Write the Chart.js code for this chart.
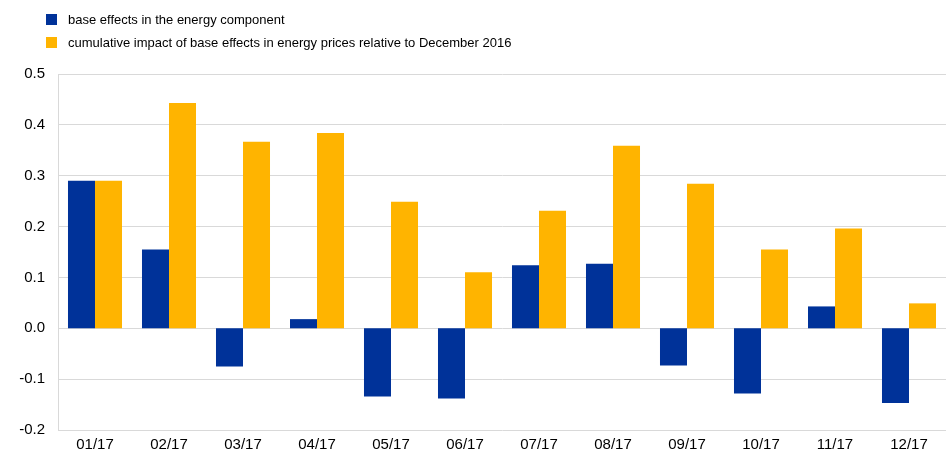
<!DOCTYPE html>
<html>
<head>
<meta charset="utf-8">
<script src="https://cdn.jsdelivr.net/npm/chart.js@4.4.0/dist/chart.umd.min.js"></script>
<style>
  html, body { margin: 0; padding: 0; background: #fff; }
  #wrap { position: relative; width: 949px; height: 456px; }
  #legend { position: absolute; left: 46px; top: 11px; font-family: "Liberation Sans", Arial, sans-serif; font-size: 13px; color: #000; }
  .item { height: 23px; line-height: 17px; white-space: nowrap; }
  .box { display: inline-block; width: 11px; height: 11px; vertical-align: -1px; margin-right: 11px; }
</style>
</head>
<body>
<div id="wrap">
  <canvas id="chart" width="949" height="456"></canvas>
  <div id="legend"></div>
</div>
<script>
var labels = ['01/17', '02/17', '03/17', '04/17', '05/17', '06/17', '07/17', '08/17', '09/17', '10/17', '11/17', '12/17'];
var baseEffects = [0.29, 0.155, -0.075, 0.018, -0.134, -0.138, 0.124, 0.127, -0.073, -0.128, 0.043, -0.147];
var cumulativeImpact = [0.29, 0.443, 0.367, 0.384, 0.249, 0.11, 0.231, 0.359, 0.284, 0.155, 0.196, 0.049];
var seriesNames = ['base effects in the energy component', 'cumulative impact of base effects in energy prices relative to December 2016'];
var colours = ['#003299', '#ffb400'];

// legend as html so the two entries stack
var legend = document.getElementById('legend');
seriesNames.forEach(function(name, i) {
    var row = document.createElement('div');
    row.className = 'item';
    row.innerHTML = '<span class="box" style="background:' + colours[i] + '"></span>' + name;
    legend.appendChild(row);
});

var ctx = document.getElementById('chart').getContext('2d');
new Chart(ctx, {
    type: 'bar',
    data: {
        labels: labels,
        datasets: [
            { label: seriesNames[0], data: baseEffects, backgroundColor: colours[0] },
            { label: seriesNames[1], data: cumulativeImpact, backgroundColor: colours[1] }
        ]
    },
    options: {
        responsive: false,
        animation: false,
        layout: { padding: { top: 74, right: 3, left: 0, bottom: 0 } },
        datasets: { bar: { categoryPercentage: 0.73, barPercentage: 1 } },
        plugins: { legend: { display: false }, tooltip: { enabled: false } },
        scales: {
            x: {
                grid: { display: false, drawTicks: false },
                border: { display: false },
                ticks: { color: '#000', padding: 6, font: { family: 'Liberation Sans', size: 15 } },
                afterFit: function(scale) { scale.height = 26; }
            },
            y: {
                min: -0.2,
                max: 0.5,
                ticks: {
                    stepSize: 0.1,
                    color: '#000',
                    padding: 13,
                    font: { family: 'Liberation Sans', size: 15 },
                    callback: function(v) { return (Math.round(v * 10) / 10).toFixed(1); }
                },
                grid: { color: '#d9d9d9', drawTicks: false, lineWidth: 1 },
                border: { display: true, color: '#d9d9d9' },
                afterFit: function(scale) { scale.width = 58; }
            }
        }
    }
});
</script>
</body>
</html>
